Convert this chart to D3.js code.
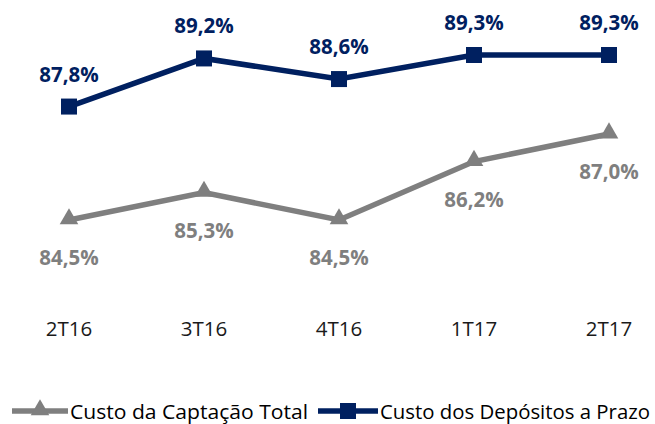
<!DOCTYPE html>
<html>
<head>
<meta charset="utf-8">
<script src="https://cdn.jsdelivr.net/npm/d3@7"></script>
<style>
  body { margin: 0; background: #fff; }
  text { font-family: "Open Sans", "DejaVu Sans", sans-serif; }
</style>
</head>
<body>
<div id="chart"></div>
<script>
var categories = ["2T16", "3T16", "4T16", "1T17", "2T17"];
var captacaoTotal = [84.5, 85.3, 84.5, 86.2, 87.0];
var depositosPrazo = [87.8, 89.2, 88.6, 89.3, 89.3];
var seriesNames = ["Custo da Captação Total", "Custo dos Depósitos a Prazo"];

var width = 655, height = 424;
var gray = "#7f7f7f", navy = "#002060";

var svg = d3.select("#chart").append("svg")
    .attr("width", width)
    .attr("height", height);

var x = d3.scalePoint().domain(categories).range([69, 609]);
var y = d3.scaleLinear().domain([84.5, 89.3]).range([220, 55]);

var fmt = function(v) { return d3.format(".1f")(v).replace(".", ",") + "%"; };

var line = d3.line()
    .x(function(d, i) { return x(categories[i]); })
    .y(function(d) { return y(d); });

// x category labels
svg.append("g").selectAll("text")
    .data(categories)
    .enter().append("text")
    .attr("x", function(d) { return x(d); })
    .attr("y", 336)
    .attr("text-anchor", "middle")
    .attr("font-size", 20.5)
    .attr("fill", "#1a1a1a")
    .text(function(d) { return d; });

// gray series
svg.append("path")
    .datum(captacaoTotal)
    .attr("d", line)
    .attr("fill", "none")
    .attr("stroke", gray)
    .attr("stroke-width", 5.5);

var tri = d3.symbol().type(d3.symbolTriangle).size(150);
svg.append("g").selectAll("path")
    .data(captacaoTotal)
    .enter().append("path")
    .attr("d", tri)
    .attr("transform", function(d, i) { return "translate(" + x(categories[i]) + "," + (y(d) - 1) + ")"; })
    .attr("fill", gray);

svg.append("g").selectAll("text")
    .data(captacaoTotal)
    .enter().append("text")
    .attr("x", function(d, i) { return x(categories[i]); })
    .attr("y", function(d) { return y(d) + 45; })
    .attr("text-anchor", "middle")
    .attr("font-size", 20.5)
    .attr("font-weight", "bold")
    .attr("fill", gray)
    .text(fmt);

// navy series
svg.append("path")
    .datum(depositosPrazo)
    .attr("d", line)
    .attr("fill", "none")
    .attr("stroke", navy)
    .attr("stroke-width", 5.5);

svg.append("g").selectAll("rect")
    .data(depositosPrazo)
    .enter().append("rect")
    .attr("x", function(d, i) { return x(categories[i]) - 8; })
    .attr("y", function(d) { return y(d) - 8; })
    .attr("width", 16)
    .attr("height", 16)
    .attr("fill", navy);

svg.append("g").selectAll("text")
    .data(depositosPrazo)
    .enter().append("text")
    .attr("x", function(d, i) { return x(categories[i]); })
    .attr("y", function(d) { return y(d) - 25; })
    .attr("text-anchor", "middle")
    .attr("font-size", 20.5)
    .attr("font-weight", "bold")
    .attr("fill", navy)
    .text(fmt);

// legend
var legend = svg.append("g").attr("transform", "translate(0,411)");
var leg1 = legend.append("g").attr("transform", "translate(12,0)");
leg1.append("line").attr("x1", 0).attr("x2", 56).attr("y1", 0).attr("y2", 0)
    .attr("stroke", gray).attr("stroke-width", 5.5);
leg1.append("path").attr("d", tri).attr("transform", "translate(28,-1)").attr("fill", gray);
leg1.append("text").attr("x", 58).attr("y", 7.5).attr("font-size", 20).attr("fill", "#000")
    .attr("textLength", 238).attr("lengthAdjust", "spacingAndGlyphs")
    .text(seriesNames[0]);

var leg2 = legend.append("g").attr("transform", "translate(318,0)");
leg2.append("line").attr("x1", 0).attr("x2", 60).attr("y1", 0).attr("y2", 0)
    .attr("stroke", navy).attr("stroke-width", 5.5);
leg2.append("rect").attr("x", 22).attr("y", -8).attr("width", 16).attr("height", 16).attr("fill", navy);
leg2.append("text").attr("x", 62).attr("y", 7.5).attr("font-size", 20).attr("fill", "#000")
    .attr("textLength", 270).attr("lengthAdjust", "spacingAndGlyphs")
    .text(seriesNames[1]);
</script>
</body>
</html>
